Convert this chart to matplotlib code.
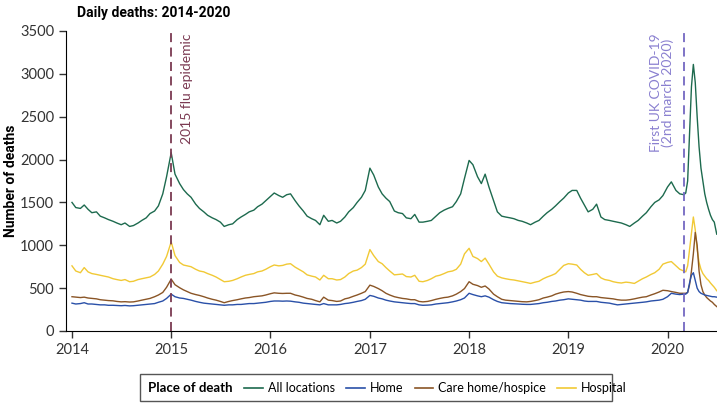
import matplotlib
matplotlib.use("Agg")
import matplotlib.pyplot as plt
import pandas as pd
from matplotlib.lines import Line2D
from matplotlib.patches import Rectangle

# x positions: 1st and 15th of each month to Mar 2020, then weekly through the first wave
semi = pd.date_range("2014-01-01", "2020-03-01", freq="SMS")
weekly = pd.to_datetime(["2020-03-08", "2020-03-15", "2020-03-22", "2020-03-29", "2020-04-05",
                         "2020-04-12", "2020-04-19", "2020-04-26", "2020-05-03", "2020-05-10",
                         "2020-05-17", "2020-05-24", "2020-05-31", "2020-06-07", "2020-06-14",
                         "2020-06-21", "2020-06-30"])
dates = semi.append(weekly)

all_locations = [
    1500, 1440, 1430, 1470, 1420, 1380, 1390, 1340, 1320, 1300, 1280, 1260, 1240, 1260, 1220, 1230, 1260, 1290, 1320, 1370, 1400, 1460, 1600, 1800,
    2080, 1830, 1720, 1650, 1600, 1560, 1480, 1430, 1390, 1350, 1320, 1300, 1270, 1220, 1240, 1250, 1300, 1330, 1360, 1390, 1410, 1450, 1480, 1520,
    1570, 1610, 1580, 1560, 1590, 1600, 1520, 1460, 1400, 1340, 1310, 1290, 1240, 1350, 1280, 1290, 1260, 1280, 1330, 1390, 1440, 1500, 1560, 1640,
    1900, 1820, 1680, 1600, 1550, 1510, 1400, 1380, 1370, 1320, 1310, 1360, 1270, 1270, 1280, 1290, 1340, 1380, 1410, 1430, 1450, 1510, 1600, 1780,
    1990, 1940, 1800, 1720, 1830, 1680, 1520, 1390, 1340, 1330, 1320, 1310, 1290, 1280, 1260, 1240, 1270, 1290, 1340, 1380, 1420, 1460, 1510, 1550,
    1610, 1640, 1640, 1550, 1470, 1390, 1420, 1480, 1330, 1300, 1290, 1280, 1270, 1260, 1240, 1220, 1260, 1290, 1340, 1380, 1450, 1500, 1530, 1580,
    1680, 1740, 1640, 1600, 1590, 1610, 1750, 2300, 2850, 3110, 2900, 2500, 2150, 1900, 1750, 1600, 1500, 1420, 1350, 1300, 1270, 1130,
]
home = [
    325, 315, 320, 330, 315, 315, 310, 305, 305, 300, 300, 298, 295, 298, 293, 295, 300, 305, 310, 315, 320, 335, 350, 380,
    430, 400, 385, 380, 370, 360, 345, 335, 325, 320, 315, 310, 305, 300, 305, 305, 310, 310, 315, 320, 320, 325, 330, 335,
    345, 350, 350, 348, 350, 348, 340, 335, 325, 320, 315, 310, 305, 320, 305, 305, 305, 310, 320, 325, 335, 345, 355, 370,
    415, 405, 385, 375, 360, 350, 340, 335, 330, 325, 320, 320, 305, 300, 302, 305, 315, 320, 325, 330, 340, 350, 365, 385,
    440, 425, 410, 400, 410, 395, 365, 345, 330, 325, 320, 318, 315, 312, 310, 310, 315, 320, 330, 335, 345, 350, 360, 365,
    375, 370, 365, 360, 350, 345, 345, 345, 335, 330, 325, 315, 305, 310, 315, 320, 325, 330, 335, 340, 350, 355, 360, 370,
    400, 440, 430, 425, 430, 430, 450, 560, 650, 680, 590, 500, 460, 440, 430, 420, 415, 410, 405, 400, 400, 395,
]
care_home = [
    400, 395, 390, 395, 385, 380, 375, 365, 360, 355, 352, 345, 340, 342, 338, 340, 350, 360, 370, 380, 400, 420, 450, 510,
    605, 540, 505, 480, 460, 440, 425, 415, 400, 385, 370, 360, 345, 330, 345, 355, 365, 375, 385, 390, 400, 405, 410, 420,
    435, 445, 440, 438, 440, 440, 420, 410, 395, 380, 370, 355, 340, 395, 360, 355, 345, 350, 375, 385, 405, 420, 440, 460,
    535, 520, 495, 470, 440, 420, 400, 390, 380, 375, 365, 365, 345, 340, 345, 355, 370, 380, 390, 395, 410, 430, 460, 495,
    575, 545, 530, 510, 525, 490, 430, 400, 370, 360, 355, 350, 345, 342, 340, 345, 355, 365, 385, 395, 410, 430, 445, 455,
    460, 455, 440, 425, 415, 405, 400, 400, 390, 385, 380, 375, 365, 360, 360, 365, 375, 385, 395, 400, 420, 435, 455, 475,
    470, 460, 450, 440, 440, 440, 450, 540, 700, 900, 1150, 1000, 700, 540, 460, 420, 390, 370, 350, 335, 310, 285,
]
hospital = [
    760, 700, 680, 740, 690, 670, 660, 650, 640, 630, 610, 600, 590, 600, 575, 580, 600, 610, 620, 630, 660, 700, 780, 870,
    1040, 880, 800, 770, 760, 750, 720, 700, 690, 670, 650, 630, 600, 575, 580, 590, 610, 630, 650, 660, 670, 690, 700, 720,
    750, 770, 760, 765, 780, 785, 745, 720, 690, 655, 640, 630, 595, 650, 610, 610, 595, 600, 630, 670, 700, 710, 740, 780,
    950, 880, 810, 785, 740, 700, 655, 660, 665, 635, 630, 650, 580, 575, 590, 610, 640, 650, 670, 690, 700, 720, 780, 900,
    965, 870, 845, 810, 850, 780, 690, 640, 620, 610, 600, 595, 585, 575, 565, 555, 570, 580, 610, 630, 650, 670, 720, 765,
    785, 780, 770, 720, 680, 650, 660, 670, 620, 600, 590, 575, 565, 560, 570, 565, 555, 580, 610, 630, 660, 680, 720, 780,
    800, 810, 760, 720, 700, 690, 760, 950, 1150, 1330, 1180, 950, 800, 720, 670, 640, 610, 590, 560, 535, 510, 470,
]

series = [("All locations", all_locations, "#1d6a4e"),
          ("Home", home, "#2a50a8"),
          ("Care home/hospice", care_home, "#8a5526"),
          ("Hospital", hospital, "#f1c935")]

flu_date = pd.Timestamp("2015-01-01")
covid_date = pd.Timestamp("2020-03-02")
year_ticks = pd.to_datetime([f"{y}-01-01" for y in range(2014, 2021)])
y_ticks = [0, 500, 1000, 1500, 2000, 2500, 3000, 3500]

plt.rcParams["font.family"] = ["Lato", "DejaVu Sans"]

fig = plt.figure(figsize=(7.17, 4.09), dpi=100)
ax = fig.add_axes([66 / 717, 1 - 331 / 409, 1 - 66 / 717, 300 / 409])

# draw in reverse so the green total sits on top
for name, vals, col in reversed(series):
    ax.plot(dates, vals, color=col, lw=1.0, label=name)

ax.axvline(flu_date, color="#7b3a52", lw=1.3, ls=(0, (5, 3)))
ax.axvline(covid_date, color="#7468c2", lw=1.3, ls=(0, (5, 3)))
ax.annotate("2015 flu epidemic", xy=(flu_date, 3500), xytext=(7, -2), textcoords="offset points",
            rotation=90, ha="left", va="top", fontsize=10, color="#7b3a52")
ax.annotate("First UK COVID-19\n(2nd march 2020)", xy=(covid_date, 3500), xytext=(-7, -2),
            textcoords="offset points", rotation=90, ha="right", va="top", fontsize=10,
            color="#8a80d0", multialignment="center", linespacing=1.0)

ax.set_xlim(pd.Timestamp("2013-12-10"), pd.Timestamp("2020-07-01"))
ax.set_ylim(0, 3500)
ax.set_xticks(year_ticks)
ax.set_xticklabels([str(d.year) for d in year_ticks])
ax.set_yticks(y_ticks)
ax.tick_params(labelsize=10.5, colors="#333333", length=5, width=1)
for s in ("top", "right"):
    ax.spines[s].set_visible(False)
ax.set_ylabel("Number of deaths", fontsize=10, fontweight="bold", family="Roboto")
ax.yaxis.set_label_coords((18 - 66) / 651, 0.5)
fig.text(77 / 717, 1 - 13 / 409, "Daily deaths: 2014-2020", fontsize=10, fontweight="bold",
         family="Roboto", va="center", ha="left")

# legend strip under the plot
fig.patches.append(Rectangle((140 / 717, 1 - 401 / 409), 472 / 717, 27 / 409, transform=fig.transFigure,
                             fill=False, edgecolor="#555555", lw=1))
fig.text(148 / 717, 1 - 388 / 409, "Place of death", fontsize=9.5, fontweight="bold", va="center", ha="left")
handles = [Line2D([], [], color=c, lw=1.2) for _, _, c in series]
fig.legend(handles, [n for n, _, _ in series], loc="center left", bbox_to_anchor=(244 / 717, 1 - 388 / 409),
           ncol=4, frameon=False, fontsize=9, handlelength=1.5, handletextpad=0.4, columnspacing=0.9,
           borderpad=0, borderaxespad=0)

fig.savefig("out.png", dpi=100)
